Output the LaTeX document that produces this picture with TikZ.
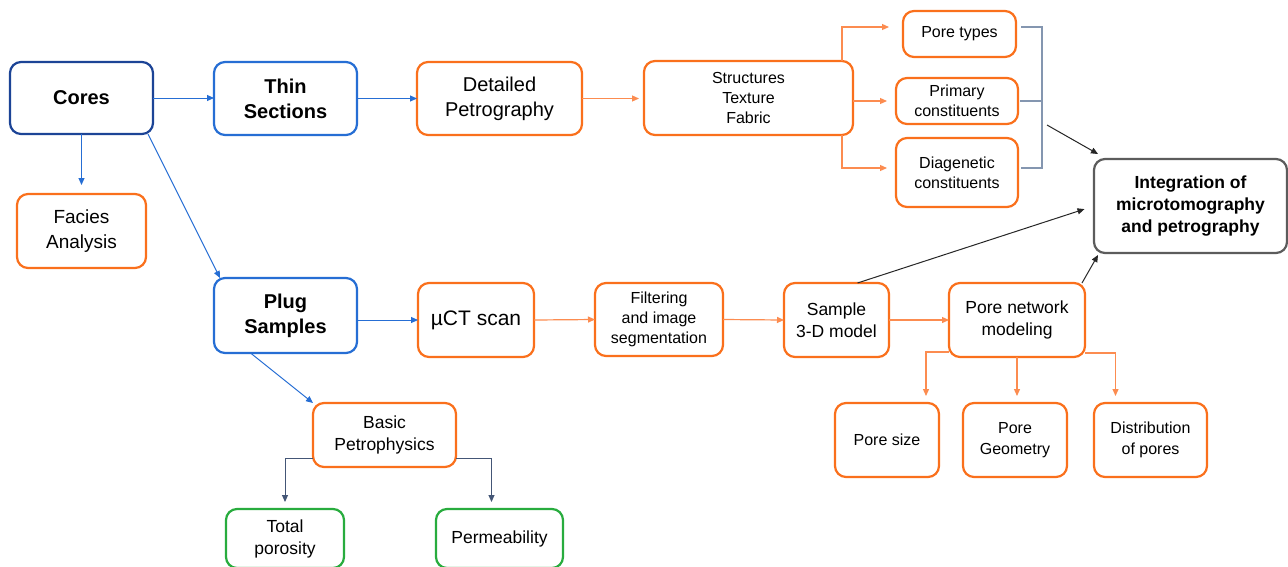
\documentclass[tikz,border=0pt]{standalone}
\usepackage{fontspec}
\setmainfont{Liberation Sans}
\usetikzlibrary{arrows.meta}
\definecolor{orng}{RGB}{250,112,28}
\definecolor{orngl}{RGB}{252,140,80}
\definecolor{blu}{RGB}{38,110,212}
\definecolor{dblu}{RGB}{28,68,150}
\definecolor{grn}{RGB}{40,172,62}
\definecolor{gry}{RGB}{92,92,92}
\definecolor{slate}{RGB}{132,150,176}
\definecolor{dslate}{RGB}{68,86,118}
\newcommand\bx[7]{\node[#2, minimum width={#5-#3}, minimum height={#6-#4}] (#1) at ({(#3+#5)/2},{(#4+#6)/2}) {#7};}
\begin{document}
\begin{tikzpicture}[x=1pt,y=-1pt,
  box/.style={draw, rounded corners=11pt, line width=2.2pt, fill=white, align=center, inner sep=0pt, outer sep=0pt, text=black},
  obox/.style={box, draw=orng},
  bbox/.style={box, draw=blu},
  dbox/.style={box, draw=dblu},
  gbox/.style={box, draw=grn},
  kbox/.style={box, draw=gry},
  tip/.style={-{Triangle[length=7pt,width=6pt]}},
  barrow/.style={tip, draw=blu, line width=1pt},
  oarrow/.style={tip, draw=orngl, line width=1.2pt},
  karrow/.style={tip, draw=black!85, line width=1pt},
  sarrow/.style={tip, draw=dslate, line width=1pt},
  f20/.style={font=\fontsize{20}{25}\selectfont},
  f20b/.style={font=\fontsize{20}{25}\selectfont\bfseries},
  f19/.style={font=\fontsize{19}{25}\selectfont},
  f17/.style={font=\fontsize{17.5}{22}\selectfont},
  f16/.style={font=\fontsize{16}{21}\selectfont},
  f15/.style={font=\fontsize{16}{20}\selectfont},
  f16b/.style={font=\fontsize{17.5}{22}\selectfont\bfseries},
]
\useasboundingbox[fill=white] (0,0) rectangle (1288,566);

% nodes
\bx{cores}{dbox,f20b}{10}{62}{153}{134}{Cores}
\bx{thin}{bbox,f20b}{214}{62}{357}{135}{Thin\\Sections}
\bx{facies}{obox,f19}{17}{194}{146}{268}{Facies\\Analysis}
\bx{det}{obox,f20}{417}{62}{582}{135}{Detailed\\Petrography}
\bx{struct}{obox,f15}{644}{61}{853}{135}{Structures\\Texture\\Fabric}
\bx{pore}{obox,f15}{903}{11}{1016}{57}{Pore types}
\bx{prim}{obox,f15}{896}{78}{1018}{124}{Primary\\constituents}
\bx{diag}{obox,f15}{896}{138}{1018}{207}{Diagenetic\\constituents}
\bx{integ}{kbox,f16b}{1094}{159}{1287}{253}{Integration of\\microtomography\\and petrography}
\bx{plug}{bbox,f20b}{214}{278}{357}{353}{Plug\\Samples}
\bx{uct}{obox,font=\fontsize{21}{25}\selectfont}{418}{283}{534}{357}{µCT scan}
\bx{filt}{obox,f15}{595}{283}{723}{356}{Filtering\\and image\\segmentation}
\bx{sample}{obox,f17}{784}{283}{889}{357}{Sample\\3-D model}
\bx{pnm}{obox,f17}{949}{283}{1085}{357}{Pore network\\modeling}
\bx{psize}{obox,f15}{835}{403}{939}{477}{Pore size}
\bx{pgeo}{obox,f16}{963}{403}{1067}{477}{Pore\\Geometry}
\bx{dist}{obox,f16}{1094}{403}{1207}{477}{Distribution\\of pores}
\bx{basic}{obox,f17}{313}{403}{456}{467}{Basic\\Petrophysics}
\bx{tot}{gbox,f17}{226}{509}{344}{568}{Total\\porosity}
\bx{perm}{gbox,f17}{436}{509}{563}{568}{Permeability}

% coordinates for free ends
\coordinate (bt) at (1042,27);
\coordinate (bb) at (1042,168);
\coordinate (bo) at (1047,125);

% connectors
\draw[barrow] (cores.east) -- (cores.east -| thin.west);
\draw[barrow, shorten >=9pt] (cores.south -| facies.north) -- (facies.north);
\draw[barrow] ([xshift=-5pt]cores.south east) -- ([xshift=6pt]plug.north west);
\draw[barrow] (thin.east) -- (det.west);
\draw[oarrow, shorten >=5pt] (det.east) -- (det.east -| struct.west);
\draw[oarrow] ([xshift=-11pt]struct.north east) |- ([xshift=-14pt]pore.west |- bt);
\draw[oarrow, shorten >=9pt] (struct.east |- prim.west) -- (prim.west);
\draw[oarrow] ([xshift=-11pt]struct.south east) |- ([xshift=-9pt]diag.west |- bb);
\draw[slate, line width=1.2pt] ([xshift=5pt]pore.east |- bt) -- (bt) -- (bb) -- ([xshift=3pt]diag.east |- bb);
\draw[slate, line width=1.2pt] ([xshift=2pt]prim.east) -- (prim.east -| bt);
\draw[karrow] (bo) -- ([shift={(4,-5)}]integ.north west);
\draw[karrow, shorten >=10pt] ([xshift=21pt]sample.north) -- (integ.west);
\draw[karrow] ([xshift=-3pt]pnm.north east) -- ([shift={(4,2)}]integ.south west);
\draw[barrow] (plug.east |- uct.west) -- (uct.west);
\draw[oarrow] (uct.east) -- (filt.west);
\draw[oarrow] (filt.east) -- (sample.west);
\draw[oarrow] (sample.east) -- (pnm.west);
\draw[oarrow, shorten >=7pt] ([shift={(0,-5)}]pnm.south west) -| ([xshift=39pt]psize.north);
\draw[oarrow, shorten >=7pt] (pnm.south) -- (pnm.south |- pgeo.north);
\draw[oarrow, shorten >=7pt] ([shift={(0,-4)}]pnm.south east) -| ([xshift=-35pt]dist.north);
\draw[barrow] ([xshift=-35pt]plug.south) -- (basic.north west);
\draw[sarrow, shorten >=7pt] ([shift={(0,-9)}]basic.south west) -| (tot.north);
\draw[sarrow, shorten >=7pt] ([shift={(0,-9)}]basic.south east) -| ([xshift=-8pt]perm.north);
\end{tikzpicture}
\end{document}
